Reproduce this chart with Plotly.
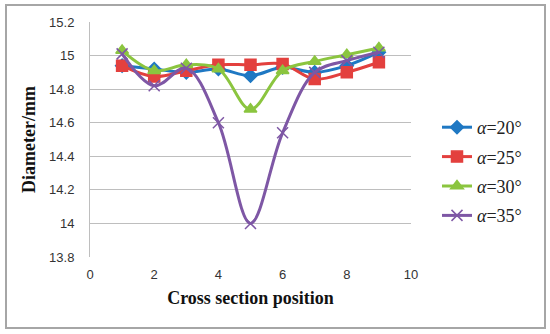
import plotly.graph_objects as go

positions = [1, 2, 3, 4, 5, 6, 7, 8, 9]
d20 = [14.94, 14.92, 14.90, 14.92, 14.88, 14.93, 14.90, 14.94, 15.02]
d25 = [14.94, 14.875, 14.91, 14.945, 14.945, 14.95, 14.86, 14.90, 14.96]
d30 = [15.03, 14.91, 14.945, 14.92, 14.68, 14.91, 14.965, 15.005, 15.045]
d35 = [15.01, 14.82, 14.925, 14.60, 14.00, 14.54, 14.90, 14.97, 15.02]
names = ["<i>α</i>=20°", "<i>α</i>=25°", "<i>α</i>=30°", "<i>α</i>=35°"]
x_ticks = [0, 2, 4, 6, 8, 10]
y_ticks = [13.8, 14, 14.2, 14.4, 14.6, 14.8, 15, 15.2]

W, H = 550, 334
L, R, T, B = 90, 139, 22, 77

colors = ["#1F78C3", "#E3403E", "#8BC53F", "#7E57A5"]
symbols = ["diamond", "square", "triangle-up", "x-thin"]
sizes = [10, 11, 11, 11]
serif = "Liberation Serif"

fig = go.Figure()
for i, (vals, nm) in enumerate(zip([d20, d25, d30, d35], names)):
    fig.add_trace(go.Scatter(
        x=positions, y=vals,
        name='<span style="font-family:Liberation Serif">' + nm + "</span>",
        mode="lines+markers",
        line=dict(color=colors[i], width=3, shape="spline", smoothing=1),
        marker=dict(symbol=symbols[i], size=sizes[i], color=colors[i],
                    line=dict(color=colors[i], width=1.5)),
        legendgroup=str(i),
    ))

pw = W - L - R
ph = H - T - B
def px2x(p):
    return (p - L) / pw
def px2y(p):
    return (H - B - p) / ph

fig.add_shape(type="rect", xref="paper", yref="paper",
              x0=px2x(6), x1=px2x(545), y0=px2y(328), y1=px2y(5),
              line=dict(color="#A6A6A6", width=2), fillcolor="rgba(0,0,0,0)")

fig.update_layout(
    width=W, height=H,
    margin=dict(l=L, r=R, t=T, b=B, autoexpand=False),
    paper_bgcolor="white", plot_bgcolor="white",
    showlegend=True,
    legend=dict(x=px2x(437), y=px2y(109), xanchor="left", yanchor="top",
                font=dict(family=serif, size=18, color="#222"),
                tracegroupgap=3, itemwidth=30, bgcolor="rgba(0,0,0,0)"),
    xaxis=dict(range=[0, 10], tickvals=x_ticks, showgrid=False, zeroline=False,
               showline=False, ticks="", ticklabelstandoff=8, automargin=False,
               tickfont=dict(family="Liberation Sans", size=13, color="#333"),
               title=dict(text="<b>Cross section position</b>", standoff=10,
                          font=dict(family=serif, size=18, color="#111"))),
    yaxis=dict(range=[13.8, 15.2], tickvals=y_ticks, showgrid=True,
               gridcolor="#BEBEBE", gridwidth=1, zeroline=False,
               showline=True, linecolor="#BEBEBE", linewidth=1, ticks="",
               ticklabelstandoff=12, automargin=False,
               tickfont=dict(family="Liberation Sans", size=13, color="#333"),
               title=dict(text="<b>Diameter/mm</b>", standoff=8,
                          font=dict(family=serif, size=18, color="#111"))),
)

fig.write_html("out.html", config={"displayModeBar": False},
               post_script="document.body.style.margin='0';document.body.style.overflow='hidden';")
